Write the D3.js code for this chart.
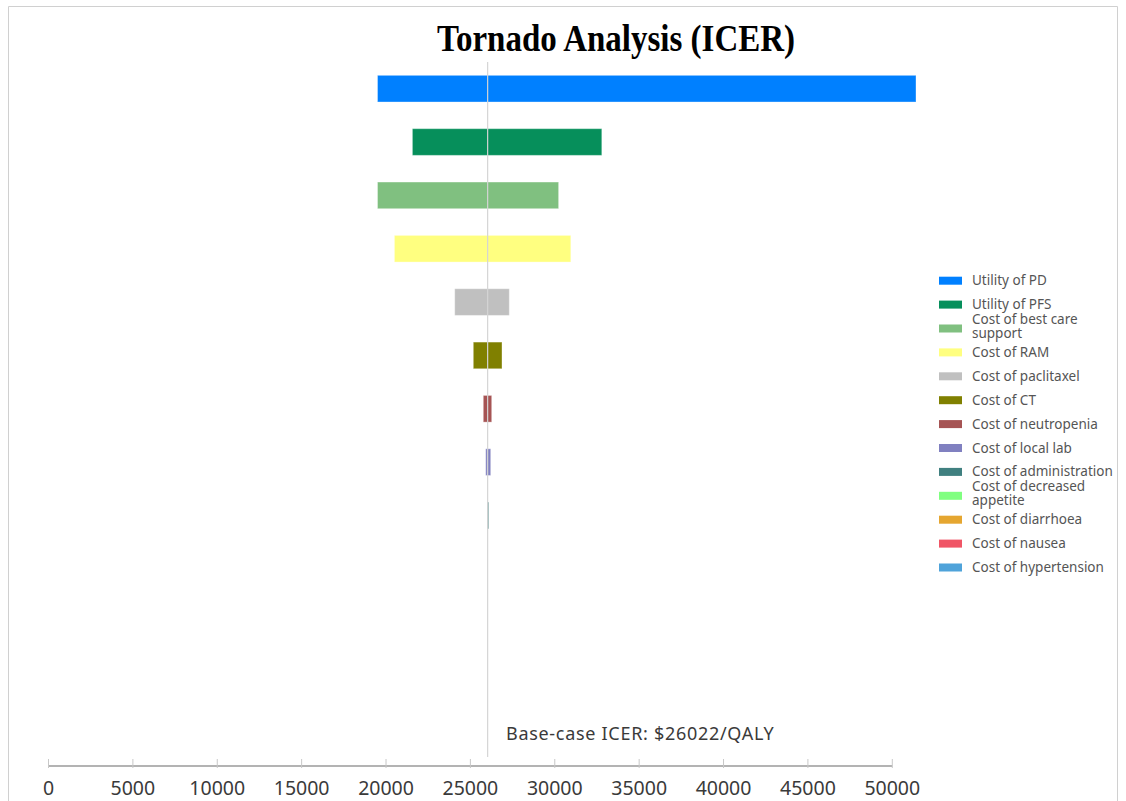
<!DOCTYPE html>
<html>
<head>
<meta charset="utf-8">
<script src="https://cdn.jsdelivr.net/npm/d3@7"></script>
<style>
  body { margin: 0; background: #fff; }
  svg { display: block; }
  .tick-label { font-family: "Noto Sans", "Open Sans", sans-serif; fill: #3a3a3a; }
  .legend text { font-family: "Noto Sans", "Open Sans", sans-serif; fill: #555; }
</style>
</head>
<body>
<script>
// parameters in order (top -> bottom)
var params = ["Utility of PD", "Utility of PFS", "Cost of best care support", "Cost of RAM",
  "Cost of paclitaxel", "Cost of CT", "Cost of neutropenia", "Cost of local lab",
  "Cost of administration", "Cost of decreased appetite", "Cost of diarrhoea",
  "Cost of nausea", "Cost of hypertension"];
// ICER at low / high end of each parameter range
var lowIcer  = [19495, 21563, 19495, 20497, 24070, 25172, 25764, 25907, 25984, 26022, 26022, 26022, 26022];
var highIcer = [51404, 32786, 30227, 30949, 27305, 26872, 26262, 26203, 26084, 26022, 26022, 26022, 26022];
var colors = ["#0080ff", "#068f5b", "#80c080", "#ffff80", "#c0c0c0", "#808000", "#a65454",
  "#8080c0", "#408080", "#80ff80", "#e5a630", "#f05566", "#4fa3da"];
// legend wraps long names like the original
var legendLines = [["Utility of PD"], ["Utility of PFS"], ["Cost of best care", "support"], ["Cost of RAM"],
  ["Cost of paclitaxel"], ["Cost of CT"], ["Cost of neutropenia"], ["Cost of local lab"],
  ["Cost of administration"], ["Cost of decreased", "appetite"], ["Cost of diarrhoea"],
  ["Cost of nausea"], ["Cost of hypertension"]];
var xTicks = [0, 5000, 10000, 15000, 20000, 25000, 30000, 35000, 40000, 45000, 50000];
var baseIcer = 26022;

var width = 1126, height = 801;

var svg = d3.select("body").append("svg")
  .attr("width", width)
  .attr("height", height);

// outer frame (open at the bottom)
svg.append("path")
  .attr("d", "M8.5,801V6.5H1117.5V801")
  .attr("fill", "none")
  .attr("stroke", "#d0d0d0")
  .attr("stroke-width", 1);

var x = d3.scaleLinear().domain([0, 50000]).range([48.5, 892.3]);
var y = d3.scaleBand().domain(params).range([62, 62 + 13 * 53.35])
  .paddingInner(0.5).paddingOuter(0.25);

// title
svg.append("text")
  .attr("x", 616)
  .attr("y", 51)
  .attr("text-anchor", "middle")
  .style("font-family", "'Liberation Serif', 'Times New Roman', serif")
  .style("font-weight", "bold")
  .style("font-size", "38px")
  .attr("textLength", 358)
  .attr("lengthAdjust", "spacingAndGlyphs")
  .text("Tornado Analysis (ICER)");

var data = params.map(function(p, i) {
  return { name: p, lo: lowIcer[i], hi: highIcer[i], color: colors[i] };
});

// bars
svg.append("g").selectAll("rect")
  .data(data.filter(function(d) { return d.hi > d.lo; }))
  .enter().append("rect")
  .attr("x", function(d) { return x(d.lo); })
  .attr("y", function(d) { return y(d.name); })
  .attr("width", function(d) { return x(d.hi) - x(d.lo); })
  .attr("height", y.bandwidth())
  .attr("fill", function(d) { return d.color; })
  .attr("stroke", "#fff")
  .attr("stroke-opacity", 0.35)
  .attr("stroke-width", 1);

// base-case line
svg.append("line")
  .attr("x1", x(baseIcer)).attr("x2", x(baseIcer))
  .attr("y1", 62).attr("y2", 757)
  .attr("stroke", "#d4d4d4")
  .attr("stroke-width", 1.2);

svg.append("text")
  .attr("x", 506)
  .attr("y", 740)
  .style("font-family", "'Noto Sans', 'Open Sans', sans-serif")
  .style("font-size", "18px")
  .style("letter-spacing", "0.7px")
  .style("fill", "#3a3a3a")
  .text("Base-case ICER: $" + baseIcer + "/QALY");

// x axis
var axisY = 766;
svg.append("line")
  .attr("x1", x(0)).attr("x2", x(50000))
  .attr("y1", axisY).attr("y2", axisY)
  .attr("stroke", "#9a9a9a")
  .attr("stroke-width", 1.5);

svg.append("g").selectAll("line")
  .data(xTicks)
  .enter().append("line")
  .attr("x1", function(d) { return x(d); })
  .attr("x2", function(d) { return x(d); })
  .attr("y1", axisY - 7).attr("y2", axisY + 2)
  .attr("stroke", "#c8c8c8")
  .attr("stroke-width", 1);

svg.append("g").selectAll("text")
  .data(xTicks)
  .enter().append("text")
  .attr("class", "tick-label")
  .attr("x", function(d) { return x(d); })
  .attr("y", 795)
  .attr("text-anchor", "middle")
  .style("font-size", "19.5px")
  .text(function(d) { return d; });

// legend
var legend = svg.append("g").attr("class", "legend")
  .selectAll("g")
  .data(legendLines)
  .enter().append("g")
  .attr("transform", function(d, i) { return "translate(939," + (280.7 + i * 23.9) + ")"; });

legend.append("rect")
  .attr("x", 0)
  .attr("y", -4)
  .attr("width", 23)
  .attr("height", 8)
  .attr("fill", function(d, i) { return colors[i]; });

legend.append("text")
  .attr("y", function(d) { return d.length > 1 ? -4.5 : 4.5; })
  .style("font-size", "13.5px")
  .selectAll("tspan")
  .data(function(d) { return d; })
  .enter().append("tspan")
  .attr("x", 33)
  .attr("dy", function(d, i) { return i === 0 ? 0 : 14; })
  .text(function(d) { return d; });
</script>
</body>
</html>
